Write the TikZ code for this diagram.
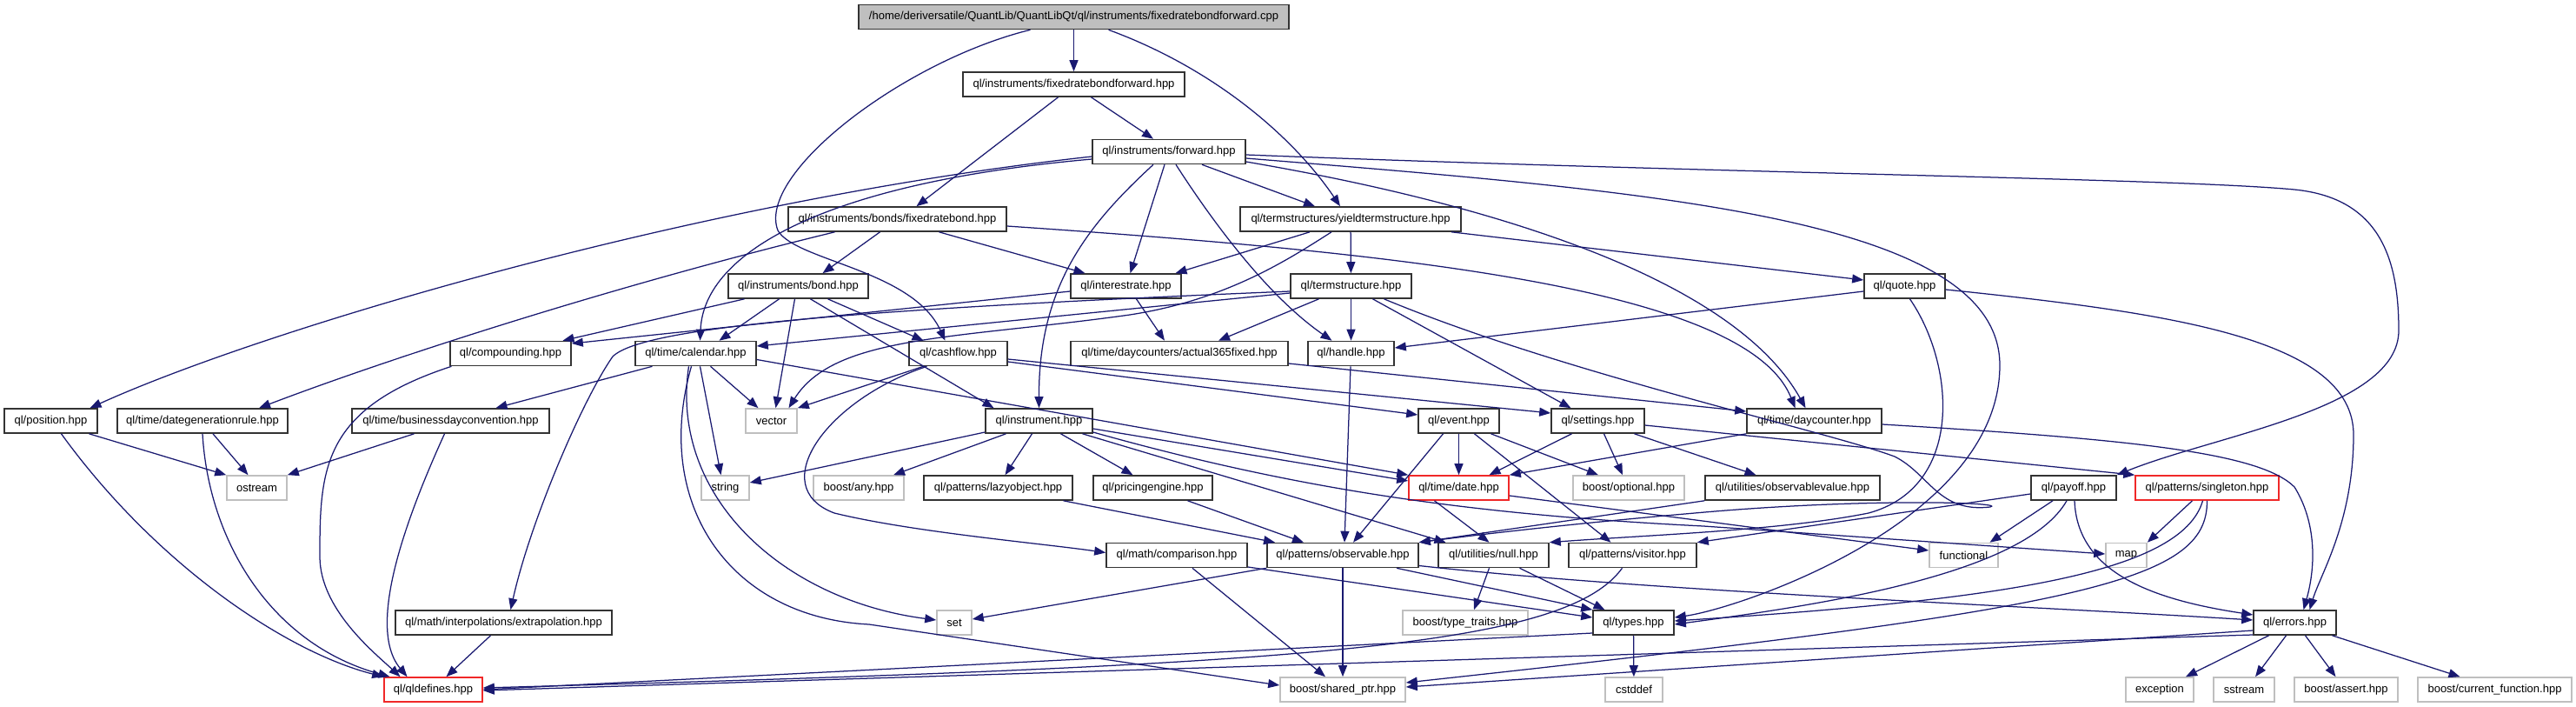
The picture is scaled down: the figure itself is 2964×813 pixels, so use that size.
\documentclass[tikz,border=0pt]{standalone}
\usepackage{fontspec}
\setmainfont{Liberation Sans}
\usetikzlibrary{arrows.meta}
\definecolor{edgec}{RGB}{25,25,112}
\definecolor{rootfill}{RGB}{191,191,191}
\definecolor{sysc}{RGB}{191,191,191}
\definecolor{boxc}{RGB}{51,51,51}
\definecolor{redc}{RGB}{240,40,40}
\begin{document}
\begin{tikzpicture}[x=1pt,y=-1pt,
  box/.style={draw=boxc, line width=1.6pt, fill=white, minimum height=28pt, inner sep=0pt, font=\fontsize{13}{15}\selectfont, text=black},
  sys/.style={box, draw=sysc},
  trunc/.style={box, draw=redc},
  rootbox/.style={box, fill=rootfill},
  edge/.style={draw=edgec, line width=1.25pt, -{Triangle[length=13pt,width=10pt]}},
]
\fill[white] (0,0) rectangle (2964,813);
\useasboundingbox (0,0) rectangle (2964,813);
% row 0-5
\node[rootbox, minimum width=495pt] (root) at (1235.5,19.5) {/home/deriversatile/QuantLib/QuantLibQt/ql/instruments/fixedratebondforward.cpp};
\node[box, minimum width=255pt] (frbf) at (1235.5,97) {ql/instruments/fixedratebondforward.hpp};
\node[box, minimum width=176pt] (fwd) at (1345,174.5) {ql/instruments/forward.hpp};
\node[box, minimum width=251pt] (frb) at (1032.5,252) {ql/instruments/bonds/fixedratebond.hpp};
\node[box, minimum width=254pt] (yts) at (1554,252) {ql/termstructures/yieldtermstructure.hpp};
\node[box, minimum width=161pt] (bond) at (918.5,329) {ql/instruments/bond.hpp};
\node[box, minimum width=127pt] (irate) at (1295.5,329) {ql/interestrate.hpp};
\node[box, minimum width=139pt] (ts) at (1554.5,329) {ql/termstructure.hpp};
\node[box, minimum width=93pt] (quote) at (2191.5,329) {ql/quote.hpp};
\node[box, minimum width=139pt] (comp) at (587.5,406.5) {ql/compounding.hpp};
\node[box, minimum width=139pt] (cal) at (800.5,406.5) {ql/time/calendar.hpp};
\node[box, minimum width=113pt] (cf) at (1102.5,406.5) {ql/cashflow.hpp};
\node[box, minimum width=250pt] (a365) at (1357,406.5) {ql/time/daycounters/actual365fixed.hpp};
\node[box, minimum width=99pt] (handle) at (1554.5,406.5) {ql/handle.hpp};
% row 6
\node[box, minimum width=107pt] (pos) at (58.5,484) {ql/position.hpp};
\node[box, minimum width=196pt] (dgr) at (233,484) {ql/time/dategenerationrule.hpp};
\node[box, minimum width=227pt] (bdc) at (518.5,484) {ql/time/businessdayconvention.hpp};
\node[sys, minimum width=59pt] (vec) at (887.5,484) {vector};
\node[box, minimum width=123pt] (instr) at (1195.5,484) {ql/instrument.hpp};
\node[box, minimum width=93pt] (event) at (1678.5,484) {ql/event.hpp};
\node[box, minimum width=107pt] (settings) at (1838.5,484) {ql/settings.hpp};
\node[box, minimum width=155pt] (dc) at (2087.5,484) {ql/time/daycounter.hpp};
% row 7
\node[sys, minimum width=69pt] (ostream) at (295.5,561) {ostream};
\node[sys, minimum width=55pt] (string) at (834.5,561) {string};
\node[sys, minimum width=104pt] (bany) at (988,561) {boost/any.hpp};
\node[box, minimum width=171pt] (lazy) at (1148.5,561) {ql/patterns/lazyobject.hpp};
\node[box, minimum width=137pt] (pe) at (1326.5,561) {ql/pricingengine.hpp};
\node[trunc, minimum width=115pt] (date) at (1678.5,561) {ql/time/date.hpp};
\node[sys, minimum width=128pt] (bopt) at (1874,561) {boost/optional.hpp};
\node[box, minimum width=201pt] (obsval) at (2062.5,561) {ql/utilities/observablevalue.hpp};
\node[box, minimum width=98pt] (payoff) at (2386,561) {ql/payoff.hpp};
\node[trunc, minimum width=165pt] (singleton) at (2539.5,561) {ql/patterns/singleton.hpp};
% row 8
\node[box, minimum width=162pt] (cmp) at (1354,638.5) {ql/math/comparison.hpp};
\node[box, minimum width=174pt] (obs) at (1545,638.5) {ql/patterns/observable.hpp};
\node[box, minimum width=127pt] (null) at (1718.5,638.5) {ql/utilities/null.hpp};
\node[box, minimum width=147pt] (visitor) at (1878.5,638.5) {ql/patterns/visitor.hpp};
\node[sys, minimum width=79pt] (functional) at (2259.5,638.5) {functional};
\node[sys, minimum width=47pt] (map) at (2446.5,638.5) {map};
% row 9
\node[box, minimum width=249pt] (extrap) at (579.5,716) {ql/math/interpolations/extrapolation.hpp};
\node[sys, minimum width=40pt] (set) at (1098,716) {set};
\node[sys, minimum width=144pt] (tt) at (1686,716) {boost/type\_traits.hpp};
\node[box, minimum width=93pt] (types) at (1879.5,716) {ql/types.hpp};
\node[box, minimum width=95pt] (errors) at (2640.5,716) {ql/errors.hpp};
% row 10
\node[trunc, minimum width=113pt] (qldef) at (498.5,793) {ql/qldefines.hpp};
\node[sys, minimum width=144pt] (sp) at (1545,793) {boost/shared\_ptr.hpp};
\node[sys, minimum width=66pt] (cstddef) at (1880,793) {cstddef};
\node[sys, minimum width=78pt] (exception) at (2485,793) {exception};
\node[sys, minimum width=70pt] (sstream) at (2582,793) {sstream};
\node[sys, minimum width=119pt] (bassert) at (2699.5,793) {boost/assert.hpp};
\node[sys, minimum width=177pt] (bcf) at (2870.5,793) {boost/current\_function.hpp};
% edges
\draw[edge] (root) -- (frbf);
\draw[edge] ([xshift=40]root.south) .. controls (1400,80) and (1490,160) .. ([xshift=-12]yts.north);
\draw[edge] ([xshift=-50]root.south) .. controls (1040,70) and (870,200) .. (895,265) .. controls (915,300) and (1050,310) .. ([xshift=-15]cf.north);
\draw[edge] ([xshift=20]frbf.south) -- ([xshift=-18]fwd.north);
\draw[edge] ([xshift=-18]frbf.south) -- ([xshift=22]frb.north);
\draw[edge] ([yshift=-5.5]fwd.west) .. controls (800,230) and (300,380) .. ([xshift=45]pos.north);
\draw[edge] ([yshift=-8.5]fwd.west) .. controls (950,210) and (810,290) .. ([xshift=5]cal.north);
\draw[edge] ([xshift=-18]fwd.south) .. controls (1250,260) and (1195,330) .. (instr.north);
\draw[edge] ([xshift=-5]fwd.south) -- ([xshift=5]irate.north);
\draw[edge] ([xshift=8]fwd.south) .. controls (1405,270) and (1465,345) .. ([xshift=-22]handle.north);
\draw[edge] ([xshift=38]fwd.south) -- ([xshift=-41]yts.north);
\draw[edge] ([yshift=-11.5]fwd.east) .. controls (1750,240) and (2000,330) .. ([xshift=-10]dc.north);
\draw[edge] ([yshift=-7.5]fwd.east) .. controls (1900,220) and (2301,250) .. (2301,420) .. controls (2301,600) and (2000,700) .. ([yshift=6]types.east);
\draw[edge] ([yshift=-3.5]fwd.east) .. controls (2000,200) and (2500,205) .. (2640,218) .. controls (2740,228) and (2760,300) .. (2760,380) .. controls (2760,470) and (2550,500) .. (payoff.north east);
\draw[edge] ([xshift=-20]frb.south) -- ([xshift=28]bond.north);
\draw[edge] ([xshift=48]frb.south) -- ([xshift=-47]irate.north);
\draw[edge] ([xshift=-72]frb.south) .. controls (700,330) and (440,415) .. ([xshift=65]dgr.north);
\draw[edge] ([yshift=-8]frb.east) .. controls (1600,290) and (2010,330) .. ([xshift=-22]dc.north);
\draw[edge] (yts) -- (ts);
\draw[edge] ([xshift=-47]yts.south) -- ([xshift=57]irate.north);
\draw[edge] ([xshift=-22]yts.south) .. controls (1480,300) and (1410,345) .. (1300,362) .. controls (1100,390) and (960,385) .. ([xshift=20]vec.north);
\draw[edge] ([xshift=116]yts.south) -- ([yshift=7]quote.west);
\draw[edge] ([xshift=-62]bond.south) -- ([xshift=60]comp.north);
\draw[edge] ([xshift=-22]bond.south) -- ([xshift=27]cal.north);
\draw[edge] ([xshift=-4]bond.south) -- ([xshift=5]vec.north);
\draw[edge] ([xshift=14]bond.south) -- ([xshift=-52]instr.north);
\draw[edge] ([xshift=34]bond.south) -- ([xshift=-40]cf.north);
\draw[edge] ([yshift=-6]irate.west) -- ([yshift=11.5]comp.east);
\draw[edge] ([xshift=12]irate.south) -- ([xshift=-17]a365.north);
\draw[edge] ([yshift=-8]ts.west) -- ([yshift=8.5]cal.east);
\draw[edge] ([yshift=-6]ts.west) .. controls (1000,355) and (740,375) .. (705,410) .. controls (670,460) and (610,600) .. ([xshift=8]extrap.north);
\draw[edge] ([xshift=-37]ts.south) -- ([xshift=45]a365.north);
\draw[edge] (ts) -- (handle);
\draw[edge] ([xshift=25]ts.south) -- ([xshift=-31]settings.north);
\draw[edge] ([xshift=38]ts.south) .. controls (1800,430) and (2100,495) .. (2180,525) .. controls (2220,545) and (2230,590) .. (2290,583) .. controls (2310,578) and (2150,572) .. (1950,590) .. controls (1800,603) and (1700,615) .. (obs.north east);
\draw[edge] ([yshift=-6]quote.west) -- ([yshift=6.5]handle.east);
\draw[edge] ([yshift=-4]quote.east) .. controls (2500,360) and (2708,390) .. (2708,500) .. controls (2708,600) and (2670,660) .. ([xshift=17]errors.north);
\draw[edge] ([xshift=6]quote.south) .. controls (2250,420) and (2260,560) .. (2150,590) .. controls (2050,610) and (1900,615) .. (null.north east);
\draw[edge] ([xshift=-40]cf.south) -- (vec.north east);
\draw[edge] ([xshift=-36]cf.south) .. controls (950,460) and (880,560) .. (960,590) .. controls (1050,612) and (1200,625) .. ([yshift=3]cmp.west);
\draw[edge] ([yshift=-6.5]cf.east) -- ([yshift=9]settings.west);
\draw[edge] ([yshift=-9.5]cf.east) -- ([yshift=7]event.west);
\draw[edge] ([yshift=-11.5]a365.east) -- ([yshift=11]dc.west);
\draw[edge] (handle) -- ([xshift=2]obs.north);
\draw[edge] ([xshift=-50]cal.south) -- ([xshift=52]bdc.north);
\draw[edge] ([xshift=17]cal.south) -- ([xshift=-15]vec.north);
\draw[edge] ([xshift=5]cal.south) -- ([xshift=-5]string.north);
\draw[edge] ([xshift=-8]cal.south) .. controls (770,570) and (900,690) .. ([yshift=3]set.west);
\draw[edge] ([xshift=-5]cal.south) .. controls (750,580) and (840,710) .. (1000,718) -- ([yshift=5]sp.west);
\draw[edge] ([yshift=-7]cal.east) -- (date.north west);
\draw[edge] ([xshift=44]pos.south) -- (ostream.north west);
\draw[edge] ([xshift=12]pos.south) .. controls (180,650) and (330,750) .. (qldef.north west);
\draw[edge] (dgr.south) .. controls (240,620) and (310,740) .. ([xshift=-50]qldef.north);
\draw[edge] ([xshift=12]dgr.south) -- ([xshift=-10]ostream.north);
\draw[edge] ([xshift=-42]bdc.south) -- (ostream.north east);
\draw[edge] ([xshift=-7]bdc.south) .. controls (470,590) and (420,720) .. ([xshift=-30]qldef.north);
\draw[edge] ([xshift=-68]comp.south) .. controls (370,470) and (368,540) .. (368,640) .. controls (368,700) and (430,750) .. ([xshift=-38]qldef.north);
\draw[edge] ([xshift=-15]extrap.south) -- ([xshift=15]qldef.north);
\draw[edge] ([yshift=-13]instr.west) -- ([yshift=6]string.east);
\draw[edge] ([xshift=-38]instr.south) -- ([xshift=40]bany.north);
\draw[edge] ([xshift=-8]instr.south) -- ([xshift=8]lazy.north);
\draw[edge] ([xshift=25]instr.south) -- ([xshift=-23]pe.north);
\draw[edge] ([yshift=-9]instr.east) -- ([yshift=8]date.west);
\draw[edge] ([yshift=-13]instr.east) .. controls (1500,565) and (1700,592) .. (1960,605) -- ([yshift=1.5]map.west);
\draw[edge] ([xshift=50]instr.south) -- ([xshift=-55]null.north);
\draw[edge] ([xshift=-18]event.south) -- ([xshift=12]obs.north);
\draw[edge] (event) -- (date);
\draw[edge] ([xshift=18]event.south) -- ([xshift=-25]visitor.north);
\draw[edge] ([xshift=37]event.south) -- ([xshift=-35]bopt.north);
\draw[edge] ([xshift=-30]settings.south) -- ([xshift=35]date.north);
\draw[edge] ([xshift=7]settings.south) -- ([xshift=-7]bopt.north);
\draw[edge] ([xshift=42]settings.south) -- ([xshift=-42]obsval.north);
\draw[edge] ([yshift=-5]settings.east) -- (singleton.north west);
\draw[edge] (dc.south west) -- (date.north east);
\draw[edge] ([yshift=-4]dc.east) .. controls (2450,505) and (2600,520) .. (2640,560) .. controls (2665,600) and (2665,650) .. ([xshift=10]errors.north);
\draw[edge] (obsval.south west) -- (obs.north east);
\draw[edge] ([xshift=-24]payoff.south) -- ([xshift=30]functional.north);
\draw[edge] ([xshift=-8]payoff.south) .. controls (2330,660) and (2100,695) .. ([yshift=-2]types.east);
\draw[edge] ([xshift=1]payoff.south) .. controls (2390,660) and (2480,690) .. ([yshift=9]errors.west);
\draw[edge] ([yshift=-7]payoff.west) -- (visitor.north east);
\draw[edge] ([xshift=-17]singleton.south) -- (map.north east);
\draw[edge] ([xshift=-5]singleton.south) .. controls (2510,660) and (2300,690) .. ([yshift=2]types.east);
\draw[edge] (singleton.south) .. controls (2540,670) and (2400,700) .. ([yshift=8]sp.east);
\draw[edge] ([yshift=-13.5]cmp.east) -- ([yshift=6]types.west);
\draw[edge] ([xshift=18]cmp.south) -- ([xshift=-20]sp.north);
\draw[edge] (obs) -- (sp);
\draw[edge] ([xshift=62]obs.south) -- (types.north west);
\draw[edge] (obs.south west) -- ([yshift=4]set.east);
\draw[edge] ([yshift=-12]obs.east) .. controls (1900,680) and (2300,695) .. ([yshift=3]errors.west);
\draw[edge] ([xshift=-5]null.south) -- ([xshift=10]tt.north);
\draw[edge] ([xshift=30]null.south) -- ([xshift=-33]types.north);
\draw[edge] ([xshift=-12]visitor.south) .. controls (1800,745) and (1500,765) .. ([yshift=2]qldef.east);
\draw[edge] (types) -- (cstddef);
\draw[edge] ([yshift=-12]types.west) -- (qldef.east);
\draw[edge] ([yshift=-14]errors.west) -- ([yshift=-1]qldef.east);
\draw[edge] ([yshift=-9]errors.west) -- ([yshift=3]sp.east);
\draw[edge] ([xshift=-30]errors.south) -- ([xshift=30]exception.north);
\draw[edge] ([xshift=-10]errors.south) -- ([xshift=13]sstream.north);
\draw[edge] ([xshift=12]errors.south) -- ([xshift=-12]bassert.north);
\draw[edge] ([xshift=43]errors.south) -- ([xshift=-40]bcf.north);
\draw[edge] ([xshift=75]lazy.south) -- ([xshift=-78]obs.north);
\draw[edge] ([xshift=40]pe.south) -- ([xshift=-45]obs.north);
\draw[edge] ([xshift=-28]date.south) -- ([xshift=-5]null.north);
\draw[edge] ([yshift=-9]date.east) -- ([yshift=5.5]functional.west);
\end{tikzpicture}
\end{document}
